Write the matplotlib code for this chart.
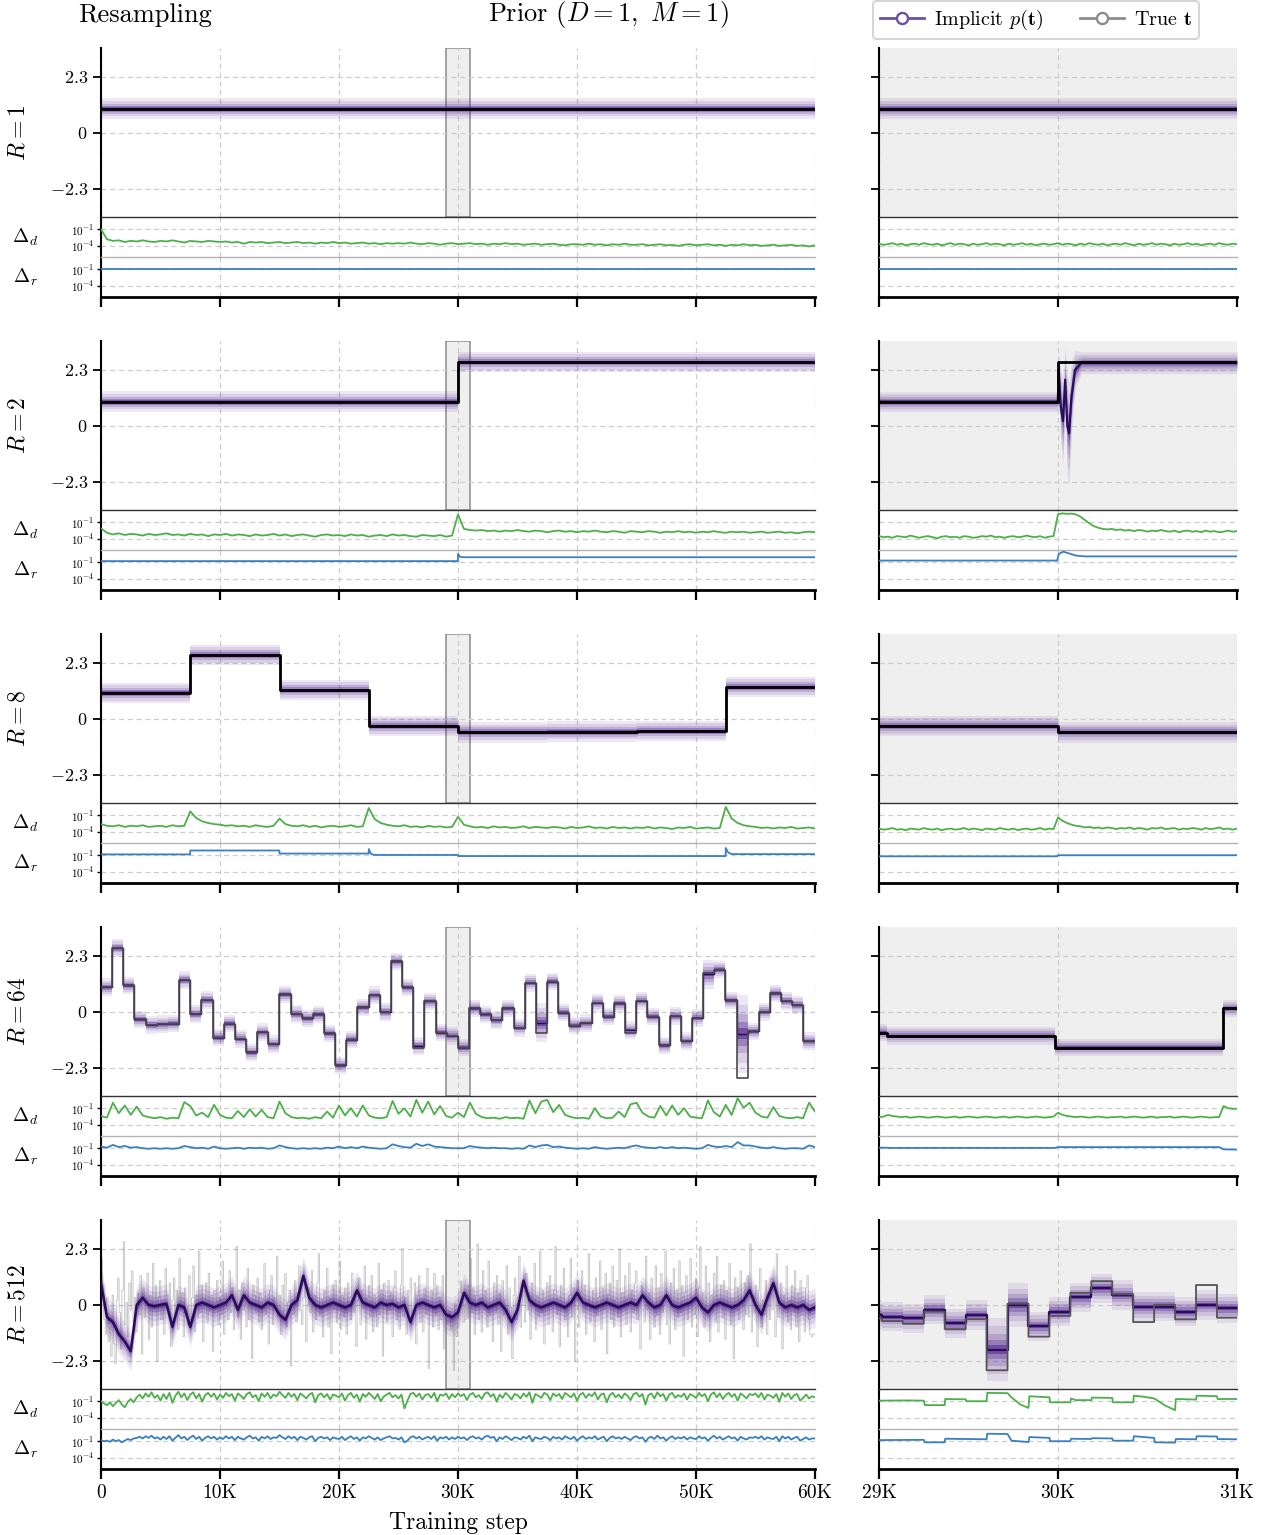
import numpy as np
import matplotlib
matplotlib.use("Agg")
import matplotlib.pyplot as plt
from matplotlib.lines import Line2D
from matplotlib.ticker import NullLocator

plt.rcParams.update({
    "font.family": "serif",
    "font.serif": ["cmr10", "DejaVu Serif"],
    "mathtext.fontset": "cm",
    "axes.formatter.use_mathtext": True,
    "axes.unicode_minus": False,
})

# ---------------------------------------------------------------- data
R_VALUES = [1, 2, 8, 64, 512]
PERIOD = {1: 60000, 2: 30000, 8: 7500, 64: 937, 512: 117}

TRUE_R1 = [1.0]
TRUE_R2 = [1.0, 2.63]
TRUE_R8 = [1.07, 2.63, 1.19, -0.29, -0.55, -0.52, -0.50, 1.31]
TRUE_R64 = [1.02, 2.63, 1.09, -0.30, -0.53, -0.50, -0.48, 1.31, -0.08, 0.49,
            -1.05, -0.48, -1.10, -1.66, -0.83, -1.32, 0.72, -0.08, -0.26, -0.10,
            -0.88, -2.19, -1.13, 0.19, 0.69, 0.00, 2.08, 1.01, -1.46, 0.44,
            -0.87, -0.98, -1.46, 0.15, -0.10, -0.33, 0.15, -0.65, 1.20, -0.86,
            1.22, -0.03, -0.56, -0.46, 0.38, -0.19, 0.35, -0.87, 0.46, -0.19,
            -1.37, -0.16, -1.20, -0.24, 1.61, 1.74, 0.48, -2.71, -0.80, 0.01,
            0.76, 0.45, 0.29, -1.20]
P_R64 = [1.02, 2.63, 1.09, -0.30, -0.53, -0.50, -0.48, 1.31, -0.08, 0.49,
         -1.05, -0.48, -1.10, -1.66, -0.83, -1.32, 0.72, -0.08, -0.26, -0.10,
         -0.88, -2.19, -1.13, 0.19, 0.69, 0.00, 2.08, 1.01, -1.40, 0.44,
         -0.85, -0.98, -1.46, 0.15, -0.10, -0.33, 0.15, -0.65, 1.20, -0.45,
         1.25, -0.03, -0.56, -0.46, 0.38, -0.19, 0.35, -0.75, 0.46, -0.19,
         -1.37, -0.16, -1.20, -0.24, 1.55, 1.74, 0.48, -0.90, -0.80, 0.01,
         0.76, 0.45, 0.29, -1.20]
P_R64_WIDE = {39: 0.8, 54: 0.6, 57: 1.6}

TRUE_R512 = [
    1.9, 0.8, -0.6, -1.2, 0.3, -1.5, -0.9, -2.1, 0.4, -1.6, -2.4, 0.2, 1.1, -0.3, -1.8, 0.6,
    2.6, -0.8, 0.1, -1.3, 0.9, -0.2, 1.4, -0.7, 0.3, -1.1, 0.5, -0.4, 1.2, -2.0, 0.7, -0.5,
    0.2, 1.3, -1.4, 0.4, -0.9, 1.7, -0.1, 0.8, -2.3, 0.3, 1.0, -0.6, 0.1, -1.2, 1.5, 0.4,
    -0.3, 0.9, -1.7, 0.2, 1.1, -0.4, 0.6, -1.0, 1.9, -0.2, 0.5, -1.3, 0.7, 0.0, -0.8, 1.2,
    -0.6, 0.3, 1.6, -1.1, 0.4, -0.5, 2.2, -0.3, 0.8, -1.5, 0.1, 0.9, -0.7, 1.3, -0.2, 0.4,
    -1.9, 0.6, -0.1, 1.0, -0.8, 0.3, -0.4, 1.8, -1.2, 0.5, 0.0, -0.6, 1.4, -0.3, 0.7, -1.0,
    0.2, 2.4, -0.5, 0.6, -1.4, 0.9, -0.2, 0.3, -0.9, 1.5, -0.6, 0.1, -2.2, 0.8, 0.4, -0.3,
    1.1, -0.7, 0.5, -1.0, 0.2, 1.7, -0.4, 0.0, -1.6, 0.6, 1.2, -0.8, 0.3, -0.1, 2.0, -0.5,
    0.4, -1.2, 0.8, -0.3, 1.3, -0.9, 0.1, 0.6, -2.5, 0.2, -0.4, 1.0, -0.7, 0.5, 1.6, -0.2,
    -0.8, 0.3, 1.1, -1.5, 0.0, 0.7, -0.3, 1.4, -1.1, 0.4, -0.6, 0.9, 2.1, -0.4, 0.2, -1.3,
    0.6, -0.1, 1.5, -0.9, 0.3, -2.0, 0.8, -0.2, 1.0, -0.7, 0.1, 1.8, -1.0, 0.4, -0.5, 0.7,
    -1.2, 0.9, 0.0, -0.6, 1.3, -0.3, 0.5, -1.7, 0.2, 1.1, -0.8, 0.6, -0.1, 1.6, -1.4, 0.3,
    0.8, -0.5, 1.2, -1.1, 0.4, 0.0, -0.9, 1.7, -0.4, 0.6, -2.1, 0.9, 0.2, -0.7, 1.0, -0.2,
    0.5, -1.3, 0.7, 1.4, -0.6, 0.1, -1.0, 0.8, 2.3, -0.5, 0.3, -1.2, 0.6, -0.3, 1.1, -0.8,
    -0.2, 0.9, -1.6, 0.4, 1.2, -0.7, 0.2, -1.1, 0.7, -0.4, 1.5, -2.6, 0.0, 0.6, -0.9, 1.3,
    -0.4, 0.8, -1.0, 0.3, -0.6, 1.2, -1.8, -0.55, -0.66, -0.77, -0.27, -0.99, -0.58, -2.68, 0.05, -1.30,
    -0.45, 0.50, 0.98, 0.44, -0.70, 0.01, -0.59, 0.82, -0.52, 1.9, -0.3, 0.7, -1.2, 0.4, 2.5, -0.6,
    0.3, -1.1, 1.4, -0.2, 0.6, -0.9, 1.8, -0.4, 0.1, -1.5, 0.9, -0.3, 1.2, -0.8, 0.5, -1.9,
    1.0, -0.4, 0.2, 1.6, -1.2, 0.7, -0.1, -2.2, 0.4, 1.1, -0.6, 0.3, 2.0, -0.9, 0.0, 0.8,
    -0.7, 1.3, -0.2, 0.5, -1.4, 0.9, 0.1, 1.7, -1.0, 0.4, -0.5, 2.2, -0.3, 0.6, -1.6, 0.2,
    0.9, -0.8, 1.2, 0.0, -1.1, 0.6, 2.4, -0.4, 0.3, -1.7, 0.8, -0.2, 1.5, -0.6, 0.1, -1.3,
    0.4, 1.9, -0.5, 0.7, -2.3, 0.2, 1.0, -0.9, 0.5, 1.4, -0.3, 0.8, -1.2, 0.0, 2.1, -0.7,
    -0.1, 0.6, -1.5, 1.1, -0.4, 0.3, 1.8, -1.0, 0.7, -0.2, 1.3, -2.0, 0.4, 0.9, -0.6, 1.6,
    -0.9, 0.2, 1.0, -0.5, 2.3, -1.3, 0.5, -0.1, 1.2, -0.8, 0.3, 1.7, -1.1, 0.6, -0.3, 0.9,
    1.4, -0.6, 0.1, -1.8, 0.8, 0.3, -0.7, 2.0, -0.2, 0.5, -1.4, 1.1, 0.0, -0.9, 1.6, -0.4,
    0.7, -1.2, 1.3, -0.3, 0.2, 2.2, -0.8, 0.4, -1.6, 0.9, -0.1, 1.5, -1.0, 0.6, -0.5, 1.8,
    -0.3, 0.8, -2.1, 0.5, 1.2, -0.6, 0.1, 1.9, -0.9, 0.3, -0.4, 1.1, -1.3, 0.7, 2.4, -0.2,
    0.5, -0.9, 1.6, -0.1, 0.9, -1.5, 0.4, -0.3, 1.3, -0.7, 2.0, -1.1, 0.2, 0.8, -0.5, 1.0,
    -1.4, 0.6, 0.0, 1.7, -0.8, 0.3, -2.2, 1.1, -0.2, 0.7, -0.6, 1.4, 0.1, -1.0, 0.9, -0.4,
    1.2, -0.5, 2.5, -1.1, 0.4, -0.3, 0.8, -1.7, 0.6, 1.5, -0.9, 0.2, -0.4, 1.0, -1.2, 0.5,
    -0.6, 1.1, -0.2, 0.7, -1.3, 2.1, -0.5, 0.3, 0.9, -1.8, 0.4, -0.1, 1.6, -0.7, 0.2, -1.0,
    0.8, -0.3, 1.4, -0.9, 0.5, -1.5, 1.0, -0.4, 0.2, -1.1, 0.7, 1.2, -0.6, -1.2, -1.3, -1.2]

# implicit p(t) mean for R=512, full run (every 500 steps)
P_R512 = [0.9, -0.5, -0.7, -1.2, -1.5, -1.9, 0.0, 0.3, 0.0, -0.05,
          0.0, 0.05, -0.9, 0.0, -0.1, -0.9, 0.0, 0.1, 0.0, -0.1,
          0.0, 0.1, 0.4, -0.2, 0.4, 0.1, 0.0, -0.1, 0.1, 0.0,
          -0.4, -0.6, 0.0, 0.2, 1.2, 0.3, 0.0, -0.1, 0.0, 0.1,
          0.0, -0.1, 0.0, 0.6, 0.1, 0.0, -0.1, 0.1, 0.0, 0.05,
          -0.1, 0.0, -0.7, 0.0, 0.1, 0.0, -0.1, 0.0, -0.4, -0.5,
          -0.3, 0.5, 0.1, 0.0, 0.1, -0.1, 0.0, 0.1, -0.2, -0.7,
          -0.2, 1.0, 0.2, 0.0, -0.1, 0.0, 0.1, 0.0, -0.1, 0.1,
          0.5, 0.1, 0.0, -0.1, 0.0, 0.1, 0.0, -0.1, 0.0, 0.1,
          0.0, 0.4, 0.1, -0.1, 0.0, 0.4, 0.0, -0.1, 0.0, 0.1,
          0.3, -0.1, -0.3, 0.0, 0.1, 0.0, -0.1, 0.0, 0.2, 0.6,
          0.0, -0.4, 0.3, 0.9, 0.1, -0.1, 0.0, -0.1, 0.0, -0.2,
          -0.1]
# implicit p(t) mean for R=512 in the zoom window: intervals 247..264
P_R512_ZOOM_FIRST = 247
P_R512_ZOOM = [-0.41, -0.48, -0.54, -0.20, -0.75, -0.41, -1.84, 0.00, -0.88,
               -0.27, 0.31, 0.68, 0.41, -0.07, -0.07, -0.27, 0.00, -0.14]
P_R512_ZOOM_WIDE = {253: 1.3, 254: 0.9}

# R=2 zoom: transient of p(t) after the resampling at 30K
P_R2_ZOOM_T = [29000, 29999, 30004, 30015, 30028, 30040, 30052, 30062, 30075, 30095, 30130, 31000]
P_R2_ZOOM_V = [1.0, 1.0, 2.3, 0.8, 0.2, 1.9, 0.0, -0.3, 1.2, 2.3, 2.6, 2.6]
P_R2_ZOOM_S = [0.4, 0.4, 0.8, 1.5, 1.8, 1.3, 2.1, 2.1, 1.5, 0.8, 0.45, 0.45]

# ---- log10 Delta_d / Delta_r, full run (121 pts: every 500 steps; 241 pts: every 250)
DD_R1 = [-1.0, -2.8, -3.1, -3.0, -3.3, -3.1, -3.2, -3.0, -3.2, -3.3,
         -3.1, -3.2, -3.0, -3.2, -3.4, -3.1, -3.2, -3.3, -3.1, -3.2,
         -3.3, -3.2, -3.4, -3.3, -3.6, -3.3, -3.4, -3.3, -3.5, -3.4,
         -3.3, -3.5, -3.4, -3.3, -3.5, -3.4, -3.6, -3.4, -3.5, -3.3,
         -3.5, -3.4, -3.6, -3.5, -3.4, -3.6, -3.5, -3.7, -3.5, -3.6,
         -3.5, -3.6, -3.4, -3.6, -3.7, -3.5, -3.6, -3.8, -3.6, -3.5,
         -3.7, -3.6, -3.5, -3.7, -3.6, -3.8, -3.6, -3.7, -3.5, -3.7,
         -3.6, -3.8, -3.7, -3.6, -3.8, -3.7, -3.6, -3.8, -3.9, -3.7,
         -3.7, -3.8, -3.6, -3.8, -3.7, -3.9, -3.7, -3.8, -3.6, -3.8,
         -3.8, -3.7, -3.9, -3.8, -3.7, -3.9, -3.8, -4.0, -3.8, -3.7,
         -3.9, -3.8, -3.7, -3.9, -3.8, -4.0, -3.8, -3.9, -3.7, -3.9,
         -3.8, -4.0, -3.9, -3.8, -4.0, -3.9, -3.8, -4.0, -3.9, -4.1,
         -3.9]
DR_R1_T = [0, 60000]
DR_R1_V = [-0.92, -0.92]

DD_R2 = [-2.1, -2.9, -3.2, -3.0, -3.3, -3.1, -3.2, -3.4, -3.1, -3.3,
         -3.2, -3.0, -3.3, -3.2, -3.4, -3.1, -3.3, -3.2, -3.5, -3.2,
         -3.3, -3.1, -3.4, -3.2, -3.3, -3.5, -3.2, -3.4, -3.3, -3.1,
         -3.4, -3.2, -3.5, -3.3, -3.2, -3.4, -3.6, -3.3, -3.2, -3.4,
         -3.3, -3.5, -3.2, -3.4, -3.3, -3.6, -3.4, -3.3, -3.5, -3.2,
         -3.4, -3.3, -3.5, -3.6, -3.3, -3.4, -3.5, -3.3, -3.6, -3.4,
         0.4, -2.2, -2.4, -2.5, -2.4, -2.6, -2.5, -2.7, -2.5, -2.6,
         -2.4, -2.6, -2.7, -2.5, -2.6, -2.8, -2.6, -2.5, -2.7, -2.6,
         -2.8, -2.6, -2.7, -2.5, -2.7, -2.8, -2.6, -2.7, -2.9, -2.6,
         -2.7, -2.8, -2.6, -2.7, -2.9, -2.7, -2.8, -2.6, -2.8, -2.7,
         -2.9, -2.7, -2.8, -2.6, -2.8, -2.9, -2.7, -2.8, -2.7, -2.9,
         -2.8, -2.7, -2.9, -2.8, -2.7, -2.9, -2.8, -3.0, -2.8, -2.7,
         -2.8]
DR_R2_T = [0, 29990, 30000, 30150, 30400, 60000]
DR_R2_V = [-0.8, -0.8, 0.5, 0.0, -0.1, -0.1]

DD_R3 = [-2.6, -2.9, -3.0, -2.8, -3.1, -2.9, -3.0, -2.8, -3.1, -3.0, -2.9, -3.1, -2.8, -3.0, -2.9,
         -0.3, -1.5, -2.1, -2.4, -2.6, -2.7, -2.9, -2.8, -3.0, -2.9, -3.1, -2.8, -3.0, -3.1, -2.9,
         -1.6, -2.6, -2.9, -3.0, -2.8, -3.1, -2.9, -3.2, -3.0, -2.9, -3.1, -3.0, -2.8, -3.1, -3.0,
         0.3, -1.7, -2.4, -2.7, -2.9, -3.0, -2.8, -3.1, -3.0, -3.2, -2.9, -3.1, -3.0, -3.2, -3.1,
         -1.3, -2.7, -3.0, -3.2, -3.1, -3.3, -3.0, -3.2, -3.1, -3.3, -3.2, -3.0, -3.3, -3.1, -3.2,
         -3.3, -3.1, -3.2, -3.4, -3.1, -3.3, -3.2, -3.0, -3.3, -3.2, -3.4, -3.1, -3.3, -3.2, -3.4,
         -3.2, -3.3, -3.1, -3.4, -3.2, -3.3, -3.5, -3.2, -3.3, -3.1, -3.4, -3.3, -3.2, -3.4, -3.3,
         0.5, -1.6, -2.4, -2.8, -3.0, -3.1, -3.3, -3.2, -3.4, -3.2, -3.3, -3.1, -3.4, -3.3, -3.2, -3.4]
DR_R3_T = [0, 7490, 7500, 14990, 15000, 22490, 22500, 22700, 23000, 29990, 30000,
           52490, 52500, 52700, 53000, 60000]
DR_R3_V = [-0.85, -0.85, -0.15, -0.15, -0.7, -0.7, 0.1, -0.8, -0.95, -0.95, -1.15,
           -1.15, 0.3, -0.5, -0.8, -0.8]

DD_R4 = [-2.4, -2.7, 0.0, -1.9, -0.5, -2.2, -0.7, -2.3, -2.6, -2.8,
         -2.6, -2.9, -2.7, -2.8, 0.1, -0.6, -2.3, -1.8, -2.6, -0.4,
         -2.2, -2.7, -2.8, -1.5, -2.6, -1.2, -2.5, -1.3, -2.6, -2.8,
         0.2, -1.9, -2.6, -2.8, -2.7, -2.9, -2.6, -2.8, -1.6, -2.7,
         -0.5, -2.3, -1.0, -2.5, -0.5, -2.3, -2.7, -2.8, -2.6, 0.3,
         -2.0, -1.0, -2.5, 0.5, -1.8, 0.2, -2.1, -0.6, -2.4, -2.7,
         -1.8, -2.6, 0.0, -2.0, -2.6, -2.8, -2.7, -2.9, -2.6, -2.8,
         -2.7, -2.9, 0.4, -1.9, 0.2, 0.5, -1.7, -0.4, -2.2, -2.6,
         -2.8, -2.7, -2.9, -1.0, -2.5, -2.8, -2.7, -1.6, -2.6, -0.3,
         0.0, -1.8, -2.5, -2.7, -0.6, -2.3, -0.5, -2.2, -1.0, -2.5,
         -2.7, -2.8, 0.4, -1.7, -2.5, -0.4, -2.2, 0.8, -0.9, 0.0,
         -1.8, -2.5, -2.7, -0.8, -2.4, -2.7, -2.8, -2.6, -2.8, 0.0,
         -1.6]
DR_R4 = [-0.7, -0.9, -0.4, -0.8, -0.6, -0.9, -0.8, -1.0, -1.1, -1.0,
         -1.1, -1.0, -1.1, -1.0, -0.6, -0.8, -1.0, -0.9, -1.1, -0.7,
         -1.0, -1.1, -1.0, -0.9, -1.1, -0.9, -1.0, -0.9, -1.1, -1.0,
         -0.5, -0.8, -1.0, -1.1, -1.0, -1.1, -1.0, -1.1, -0.9, -1.0,
         -0.7, -1.0, -0.8, -1.0, -0.7, -0.9, -1.0, -1.1, -1.0, -0.3,
         -0.6, -0.8, -0.9, -0.2, -0.6, -0.3, -0.7, -0.8, -0.9, -1.0,
         -1.0, -1.0, -0.6, -0.8, -0.9, -1.0, -0.9, -1.0, -1.0, -1.1,
         -1.0, -1.1, -0.5, -0.8, -0.5, -0.4, -0.8, -0.7, -0.9, -1.0,
         -1.1, -1.0, -1.1, -0.8, -1.0, -1.1, -1.0, -0.9, -1.0, -0.7,
         -0.5, -0.8, -0.9, -1.0, -0.8, -1.0, -0.8, -1.0, -0.9, -1.0,
         -1.1, -1.0, -0.4, -0.7, -0.8, -0.6, -0.8, 0.1, -0.5, -0.5,
         -0.7, -0.9, -1.0, -0.8, -1.0, -1.1, -1.0, -1.0, -1.1, -0.5,
         -0.8]

DD_R5 = [-1.0, -1.4, -1.7, -1.2, -1.9, -1.3, -0.8, -1.6, -2.1, -1.1, -0.6, -1.2, -0.3, 0.2, -0.5, 0.4, -0.2, 0.6, -0.4, 0.1,
         -0.9, 0.3, -0.6, 0.5, -1.3, 0.0, 0.7, -0.3, 0.4, -0.8, 0.2, 0.6, -0.5, 0.3, -1.1, 0.1, 0.5, -0.2, 0.4, -0.7,
         0.2, -0.4, 0.5, -0.1, 0.3, -0.9, 0.4, 0.0, -0.6, 0.3, 0.6, -0.3, 0.1, -1.0, 0.4, -0.2, 0.5, -0.5, 0.2, -0.1,
         0.7, 0.1, -0.4, 0.5, -0.2, 0.3, -0.8, 0.4, 0.0, -0.5, 0.2, 0.5, -1.2, 0.1, 0.4, -0.3, 0.3, -0.7, 0.2, 0.0,
         -0.3, 0.4, -0.9, 0.1, 0.5, -0.4, 0.2, -1.1, 0.3, -0.2, 0.5, 0.0, -0.6, 0.3, -1.0, -0.2, 0.2, 0.5, -0.3, 0.1,
         -0.5, 0.2, -2.3, -0.9, 0.3, 0.5, -0.2, 0.4, -0.7, 0.1, 0.3, -0.4, 0.5, -1.0, 0.2, 0.0, 0.4, -0.6, 0.3, -0.3,
         0.4, -0.1, 0.3, -0.8, 0.2, 0.5, -0.3, 0.1, -0.6, 0.4, 0.6, -0.2, 0.3, -1.1, 0.2, -0.4, 0.5, 0.0, -0.7, 0.3,
         0.1, -0.5, 0.4, -0.2, 0.6, -1.3, 0.3, 0.0, -0.4, 0.5, 0.2, -0.8, 0.4, -0.1, 0.3, -0.6, 0.5, 0.1, -0.3, 0.4,
         -0.9, 0.2, 0.5, -0.4, 0.3, -0.1, 0.6, -0.7, 0.2, 0.4, -1.2, 0.1, 0.5, -0.3, 0.2, -0.5, 0.4, 0.0, -0.8, 0.3,
         0.5, -0.2, 0.3, -1.6, 0.1, 0.4, -0.5, 0.6, -0.1, 0.3, -0.9, 0.2, 0.5, -0.4, 0.1, -0.2, 0.4, -0.7, 0.3, 0.0,
         -0.4, 0.5, -0.1, 0.3, -1.0, 0.2, 0.6, -0.3, 0.4, -0.6, 0.1, 0.5, -0.2, 0.3, -0.9, 0.4, 0.0, -0.5, 0.3, 0.1,
         0.4, -0.3, 0.5, -0.7, 0.2, 0.0, -0.4, 0.3, -1.1, 0.5, -0.2, 0.4, -0.6, 0.1, 0.3, -0.9, -0.4, 0.2, -0.5, -0.1,
         -0.3]
DR_R5 = [-0.8, -1.0, -0.9, -1.1, -0.7, -1.0, -0.8, -1.2, -0.9, -0.6, -0.8, -0.5, -0.4, -0.2, -0.5, -0.1, -0.4, 0.0, -0.5, -0.3,
         -0.7, -0.2, -0.6, -0.1, -0.9, -0.4, 0.1, -0.5, -0.2, -0.8, -0.3, 0.0, -0.6, -0.2, -0.9, -0.4, -0.1, -0.5, -0.2, -0.7,
         -0.3, -0.6, -0.1, -0.5, -0.2, -0.8, -0.2, -0.5, -0.7, -0.3, 0.0, -0.5, -0.3, -0.9, -0.2, -0.5, -0.1, -0.6, -0.3, -0.4,
         0.1, -0.3, -0.6, -0.1, -0.5, -0.2, -0.8, -0.2, -0.4, -0.7, -0.3, -0.1, -1.0, -0.4, -0.2, -0.5, -0.3, -0.8, -0.3, -0.5,
         -0.6, -0.2, -0.8, -0.4, -0.1, -0.6, -0.3, -0.9, -0.3, -0.5, -0.1, -0.4, -0.7, -0.3, -0.8, -0.5, -0.3, -0.1, -0.5, -0.4,
         -0.7, -0.3, -1.2, -0.9, -0.3, -0.1, -0.5, -0.2, -0.7, -0.4, -0.2, -0.6, -0.1, -0.9, -0.3, -0.5, -0.2, -0.7, -0.3, -0.6,
         -0.2, -0.5, -0.3, -0.8, -0.3, -0.1, -0.5, -0.3, -0.7, -0.2, 0.0, -0.4, -0.2, -1.0, -0.3, -0.6, -0.1, -0.4, -0.8, -0.3,
         -0.4, -0.7, -0.2, -0.5, 0.0, -1.0, -0.3, -0.5, -0.6, -0.2, -0.4, -0.8, -0.2, -0.5, -0.3, -0.7, -0.1, -0.4, -0.6, -0.2,
         -0.9, -0.4, -0.1, -0.6, -0.3, -0.5, -0.1, -0.7, -0.4, -0.2, -1.0, -0.4, -0.1, -0.5, -0.3, -0.6, -0.2, -0.5, -0.8, -0.3,
         -0.1, -0.5, -0.3, -1.1, -0.4, -0.2, -0.6, 0.0, -0.5, -0.3, -0.9, -0.4, -0.1, -0.6, -0.3, -0.5, -0.2, -0.7, -0.3, -0.5,
         -0.6, -0.1, -0.5, -0.3, -0.9, -0.4, 0.0, -0.5, -0.2, -0.7, -0.4, -0.1, -0.5, -0.3, -0.9, -0.2, -0.5, -0.7, -0.3, -0.4,
         -0.2, -0.5, -0.1, -0.7, -0.3, -0.5, -0.6, -0.2, -1.0, -0.1, -0.5, -0.2, -0.7, -0.4, -0.2, -0.9, -0.6, -0.3, -0.7, -0.5,
         -0.5]

# ---- log10 Delta series in the 29K-31K window (81 pts: every 25 steps)
DD_R1_Z = [-3.6, -3.8, -3.7, -3.5, -3.8, -3.6, -3.9, -3.7, -3.6, -3.8,
           -3.5, -3.7, -3.8, -3.6, -3.9, -3.7, -3.5, -3.8, -3.6, -3.7,
           -3.9, -3.6, -3.8, -3.7, -3.5, -3.8, -3.6, -3.7, -3.9, -3.6,
           -3.8, -3.7, -3.5, -3.8, -3.6, -3.9, -3.7, -3.6, -3.8, -3.7,
           -3.5, -3.8, -3.6, -3.7, -3.9, -3.6, -3.8, -3.5, -3.7, -3.8,
           -3.6, -3.9, -3.7, -3.6, -3.8, -3.5, -3.7, -3.9, -3.6, -3.8,
           -3.7, -3.5, -3.8, -3.6, -3.7, -3.9, -3.6, -3.8, -3.7, -3.5,
           -3.8, -3.6, -3.9, -3.7, -3.6, -3.8, -3.5, -3.7, -3.8, -3.6,
           -3.7]
DR_R1_Z_T = [29000, 31000]
DR_R1_Z_V = [-0.92, -0.92]

DD_R2_Z = [-3.5, -3.7, -3.6, -3.8, -3.5, -3.6, -3.7, -3.4, -3.6, -3.8,
           -3.6, -3.5, -3.7, -3.9, -3.6, -3.5, -3.7, -3.6, -3.8, -3.5,
           -3.6, -3.8, -3.7, -3.5, -3.6, -3.4, -3.7, -3.6, -3.8, -3.6,
           -3.5, -3.7, -3.6, -3.4, -3.6, -3.7, -3.5, -3.8, -3.6, -3.5,
           0.4, 0.6, 0.5, 0.55, 0.4, 0.0, -0.6, -1.2, -1.7, -2.0,
           -2.2, -2.3, -2.2, -2.4, -2.3, -2.5, -2.4, -2.6, -2.4, -2.5,
           -2.7, -2.5, -2.6, -2.4, -2.6, -2.7, -2.5, -2.8, -2.6, -2.5,
           -2.7, -2.6, -2.8, -2.5, -2.7, -2.6, -2.8, -2.7, -2.5, -2.7,
           -2.6]
DR_R2_Z_T = [29000, 29995, 30005, 30030, 30060, 30100, 30150, 31000]
DR_R2_Z_V = [-0.7, -0.7, 0.5, 0.9, 0.6, 0.2, 0.05, 0.05]

DD_R3_Z = [-3.4, -3.6, -3.5, -3.3, -3.6, -3.5, -3.7, -3.4, -3.5, -3.6,
           -3.3, -3.5, -3.6, -3.4, -3.7, -3.5, -3.4, -3.6, -3.5, -3.3,
           -3.6, -3.4, -3.5, -3.7, -3.4, -3.5, -3.6, -3.3, -3.5, -3.6,
           -3.4, -3.7, -3.5, -3.4, -3.6, -3.5, -3.3, -3.6, -3.4, -3.5,
           -1.4, -2.0, -2.4, -2.7, -2.9, -3.0, -3.2, -3.1, -3.3, -3.2,
           -3.4, -3.2, -3.3, -3.5, -3.3, -3.4, -3.2, -3.5, -3.3, -3.4,
           -3.6, -3.3, -3.4, -3.2, -3.5, -3.4, -3.3, -3.6, -3.4, -3.5,
           -3.3, -3.4, -3.6, -3.3, -3.5, -3.4, -3.2, -3.5, -3.4, -3.6,
           -3.4]
DR_R3_Z_T = [29000, 29995, 30000, 31000]
DR_R3_Z_V = [-1.2, -1.2, -1.0, -1.0]

DD_R4_Z = [-2.6, -2.5, -2.2, -2.4, -2.5, -2.6, -2.5, -2.7, -2.6, -2.5,
           -2.6, -2.7, -2.6, -2.5, -2.6, -2.7, -2.6, -2.5, -2.7, -2.6,
           -2.5, -2.6, -2.7, -2.6, -2.5, -2.6, -2.7, -2.6, -2.5, -2.7,
           -2.6, -2.5, -2.6, -2.7, -2.6, -2.5, -2.6, -2.7, -2.6, -2.5,
           -1.8, -2.2, -2.4, -2.5, -2.6, -2.5, -2.6, -2.7, -2.6, -2.5,
           -2.6, -2.7, -2.6, -2.6, -2.5, -2.7, -2.6, -2.5, -2.6, -2.7,
           -2.6, -2.5, -2.7, -2.6, -2.6, -2.5, -2.7, -2.6, -2.5, -2.6,
           -2.7, -2.6, -2.5, -2.6, -2.7, -2.6, -2.6, -0.6, -1.0, -1.1,
           -1.1]
DR_R4_Z_T = [29000, 29045, 29050, 29980, 30000, 30900, 30925, 31000]
DR_R4_Z_V = [-0.9, -0.9, -0.95, -0.95, -0.8, -0.8, -1.2, -1.25]

DD_R5_Z_T = [29000, 29150, 29250, 29256, 29367, 29370, 29484, 29488, 29601, 29605, 29718,
             29740, 29790, 29835, 29840, 29952, 29956, 30069, 30073, 30100, 30186, 30190,
             30303, 30307, 30420, 30424, 30480, 30537, 30600, 30654, 30658, 30771, 30775,
             30888, 30892, 31000]
DD_R5_Z_V = [-0.9, -0.85, -0.9, -1.7, -1.7, -0.6, -0.65, -1.0, -1.0, 0.5, 0.45,
             -0.3, -1.6, -2.2, -0.1, -0.3, -1.2, -1.2, -0.5, -0.8, -0.8, -0.35,
             -0.4, -1.2, -1.2, 0.0, -0.2, -0.5, -1.8, -2.6, -0.6, -0.7, 0.0,
             -0.1, -0.6, -0.6]
DR_R5_Z_T = [29000, 29250, 29256, 29367, 29370, 29601, 29605, 29718, 29740, 29835, 29840,
             29952, 29956, 30069, 30073, 30186, 30190, 30303, 30307, 30420, 30424, 30537,
             30541, 30654, 30658, 30771, 30775, 30888, 30892, 31000]
DR_R5_Z_V = [-0.8, -0.75, -1.2, -1.2, -0.55, -0.65, 0.35, 0.3, -0.9, -1.15, -0.25,
             -0.4, -1.0, -1.0, -0.55, -0.6, -0.45, -0.5, -0.9, -0.9, -0.1, -0.4,
             -1.2, -1.25, -0.6, -0.65, -0.1, -0.15, -0.6, -0.65]

X_TICKS_L = [0, 10000, 20000, 30000, 40000, 50000, 60000]
X_LABELS_L = ["0", "10K", "20K", "30K", "40K", "50K", "60K"]
X_TICKS_R = [29000, 30000, 31000]
X_LABELS_R = ["29K", "30K", "31K"]
Y_TICKS = [-2.3, 0, 2.3]

# ---------------------------------------------------------------- style
W, H = 1266, 1535
PURPLE = "#54278f"
DARK = "#2b0b5e"
GREEN = "#4daf4a"
BLUE = "#3a7fbf"
SHADE = "#efefef"
GRID = dict(color="#cdcdcd", lw=0.9, ls=(0, (4, 3)))
BAND_LEVELS = [(1.0, 0.10), (0.75, 0.13), (0.5, 0.20), (0.3, 0.32), (0.14, 0.55)]

fig = plt.figure(figsize=(W / 100, H / 100), dpi=100)


def add_ax(x0, w, top, h):
    return fig.add_axes([x0 / W, 1 - (top + h) / H, w / W, h / H])


def edges(R, n):
    e = np.arange(n + 1, dtype=float) * PERIOD[R]
    e[-1] = 60000
    return e


def density(ax, x, m, s, step, core_lw=1.0):
    m = np.asarray(m, float)
    s = np.broadcast_to(np.asarray(s, float), m.shape)
    for k, a in BAND_LEVELS:
        ax.fill_between(x, m - k * s, m + k * s, step=step, color=PURPLE, alpha=a,
                        lw=0, zorder=2)
    ax.plot(x, m, drawstyle="steps-post" if step else "default", color=DARK,
            lw=core_lw, zorder=3)


def series(R):
    if R == 1:
        return TRUE_R1, TRUE_R1
    if R == 2:
        return TRUE_R2, TRUE_R2
    if R == 8:
        return TRUE_R8, TRUE_R8
    if R == 64:
        return TRUE_R64, P_R64
    return TRUE_R512, None


for r, R in enumerate(R_VALUES):
    top = 48 + 293 * r
    true_v, p_v = series(R)
    n = len(true_v)
    e = edges(R, n)
    tv = np.array(list(true_v) + [true_v[-1]])

    for col in range(2):
        x0, w = (101, 714) if col == 0 else (879, 358)
        xt = X_TICKS_L if col == 0 else X_TICKS_R
        xl = X_LABELS_L if col == 0 else X_LABELS_R
        xlim = (0, 60000) if col == 0 else (29000, 31000)

        axm = add_ax(x0, w, top, 169)
        axd = add_ax(x0, w, top + 169, 40)
        axr = add_ax(x0, w, top + 209, 40)

        # ---------- main panel
        if col == 1:
            axm.set_facecolor(SHADE)
        else:
            axm.axvspan(29000, 31000, facecolor=SHADE, edgecolor="#8a8a8a", lw=1.1, zorder=0.2)

        if R <= 64:
            if R == 2 and col == 1:
                density(axm, P_R2_ZOOM_T, P_R2_ZOOM_V, P_R2_ZOOM_S, None, core_lw=1.6)
            else:
                pv = np.array(list(p_v) + [p_v[-1]])
                sp = np.full(pv.shape, 0.42)
                if R == 64:
                    sp[:] = 0.36
                    for k, v in P_R64_WIDE.items():
                        sp[k] = v
                density(axm, e, pv, sp, "post")
            if R == 64 and col == 0:
                axm.step(e, tv, where="post", color="#4a4a4a", lw=1.2, zorder=4)
            else:
                axm.step(e, tv, where="post", color="black", lw=2.0, zorder=4)
        else:
            if col == 0:
                axm.step(e, tv, where="post", color="#8c8c8c", lw=0.6, alpha=0.55, zorder=1.5)
                density(axm, np.linspace(0, 60000, len(P_R512)), P_R512, 0.8, None, core_lw=1.8)
            else:
                i0 = P_R512_ZOOM_FIRST
                ez = e[i0:i0 + len(P_R512_ZOOM) + 1]
                pz = np.array(P_R512_ZOOM + [P_R512_ZOOM[-1]])
                sz = np.full(pz.shape, 0.6)
                for k, v in P_R512_ZOOM_WIDE.items():
                    sz[k - i0] = v
                density(axm, ez, pz, sz, "post", core_lw=1.6)
                axm.step(e, tv, where="post", color="#555555", lw=1.3, zorder=4)

        axm.set_xlim(*xlim)
        axm.set_ylim(-3.45, 3.49)
        axm.set_xticks(xt)
        axm.set_yticks(Y_TICKS)
        axm.grid(True, **GRID)
        axm.set_axisbelow(True)
        axm.tick_params(axis="x", length=0, labelbottom=False)
        axm.tick_params(axis="y", direction="out", length=6, width=1.3)
        if col == 0:
            axm.set_yticklabels([r"$-2.3$", r"$0$", r"$2.3$"], fontsize=13)
        else:
            axm.set_yticklabels([])
        for s in ("top", "right", "bottom"):
            axm.spines[s].set_visible(False)
        axm.spines["left"].set_linewidth(1.5)

        # ---------- delta panels
        if col == 0:
            if R == 1:
                dT, dV = np.linspace(0, 60000, len(DD_R1)), DD_R1
                rT, rV = DR_R1_T, DR_R1_V
            elif R == 2:
                dT, dV = np.linspace(0, 60000, len(DD_R2)), DD_R2
                rT, rV = DR_R2_T, DR_R2_V
            elif R == 8:
                dT, dV = np.linspace(0, 60000, len(DD_R3)), DD_R3
                rT, rV = DR_R3_T, DR_R3_V
            elif R == 64:
                dT, dV = np.linspace(0, 60000, len(DD_R4)), DD_R4
                rT, rV = np.linspace(0, 60000, len(DR_R4)), DR_R4
            else:
                dT, dV = np.linspace(0, 60000, len(DD_R5)), DD_R5
                rT, rV = np.linspace(0, 60000, len(DR_R5)), DR_R5
        else:
            zt = lambda a: np.linspace(29000, 31000, len(a))
            if R == 1:
                dT, dV, rT, rV = zt(DD_R1_Z), DD_R1_Z, DR_R1_Z_T, DR_R1_Z_V
            elif R == 2:
                dT, dV, rT, rV = zt(DD_R2_Z), DD_R2_Z, DR_R2_Z_T, DR_R2_Z_V
            elif R == 8:
                dT, dV, rT, rV = zt(DD_R3_Z), DD_R3_Z, DR_R3_Z_T, DR_R3_Z_V
            elif R == 64:
                dT, dV, rT, rV = zt(DD_R4_Z), DD_R4_Z, DR_R4_Z_T, DR_R4_Z_V
            else:
                dT, dV, rT, rV = DD_R5_Z_T, DD_R5_Z_V, DR_R5_Z_T, DR_R5_Z_V

        axd.plot(dT, 10 ** np.asarray(dV, float), color=GREEN, lw=1.3, zorder=3)
        axr.plot(rT, 10 ** np.asarray(rV, float), color=BLUE, lw=1.3, zorder=3)

        for ax, kind in ((axd, "d"), (axr, "r")):
            ax.set_yscale("log")
            ax.set_ylim(1e-6, 10 ** 1.2)
            ax.set_xlim(*xlim)
            ax.set_xticks(xt)
            ax.set_yticks([1e-1, 1e-4])
            ax.yaxis.set_minor_locator(NullLocator())
            ax.grid(True, **GRID)
            ax.set_axisbelow(True)
            if col == 0:
                ax.set_yticklabels([r"$10^{-1}$", r"$10^{-4}$"], fontsize=8)
                ax.tick_params(axis="y", direction="out", length=3, width=1.0, pad=2)
            else:
                ax.set_yticklabels([])
                ax.tick_params(axis="y", length=0)
            ax.spines["right"].set_visible(False)
            ax.spines["left"].set_linewidth(1.5)
            if kind == "d":
                ax.spines["top"].set_color("#333333")
                ax.spines["top"].set_linewidth(1.0)
                ax.spines["bottom"].set_visible(False)
                ax.tick_params(axis="x", length=0, labelbottom=False)
            else:
                ax.spines["top"].set_color("#b5b5b5")
                ax.spines["top"].set_linewidth(1.0)
                ax.spines["bottom"].set_linewidth(2.0)
                ax.tick_params(axis="x", direction="out", length=7, width=1.6)
                if r == len(R_VALUES) - 1:
                    ax.set_xticklabels(xl, fontsize=14)
                else:
                    ax.set_xticklabels([])

    # row labels
    fig.text(18 / W, 1 - (top + 84.5) / H, rf"$R = {R}$", rotation=90,
             ha="center", va="center", fontsize=17)
    fig.text(25 / W, 1 - (top + 189) / H, r"$\Delta_d$", ha="center", va="center", fontsize=14)
    fig.text(25 / W, 1 - (top + 229) / H, r"$\Delta_r$", ha="center", va="center", fontsize=14)

# titles
fig.text(145 / W, 1 - 15 / H, "Resampling", ha="center", va="center", fontsize=19)
fig.text(608 / W, 1 - 15 / H, r"Prior $(D = 1,\ M = 1)$", ha="center", va="center", fontsize=19)
fig.text(458 / W, 1 - 1523 / H, "Training step", ha="center", va="center", fontsize=17)

handles = [
    Line2D([], [], color="#6a51a3", lw=2, marker="o", ms=8, mfc="white", mew=1.7),
    Line2D([], [], color="#8c8c8c", lw=2, marker="o", ms=8, mfc="white", mew=1.7),
]
leg = fig.legend(handles, [r"Implicit $p(\mathbf{t})$", r"True $\mathbf{t}$"],
                 loc="upper center", bbox_to_anchor=(1036 / W, 1.006), ncol=2,
                 fontsize=14.5, frameon=True, fancybox=True, handlelength=2.2,
                 columnspacing=1.8, borderpad=0.35, handletextpad=0.5)
leg.get_frame().set_edgecolor("#cccccc")
leg.get_frame().set_linewidth(1.5)

fig.savefig("out.png", dpi=100)
